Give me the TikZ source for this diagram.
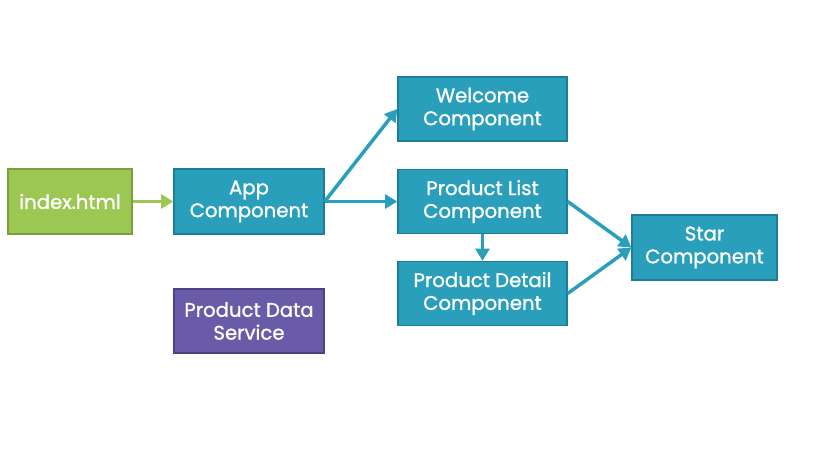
\documentclass[tikz,border=0pt]{standalone}
\usepackage{fontspec}
\setmainfont{Poppins}
\newfontfamily\boxfont[FakeBold=1.2]{Poppins}
\usetikzlibrary{arrows.meta}

\definecolor{htmlgreen}{HTML}{9CC753}
\definecolor{htmledge}{HTML}{7B9F3C}
\definecolor{compblue}{HTML}{2A9FBC}
\definecolor{compedge}{HTML}{1E7E98}
\definecolor{servpurple}{HTML}{6A5BA8}
\definecolor{servedge}{HTML}{4D4187}

\begin{document}
\begin{tikzpicture}[x=0.02cm,y=-0.02cm,
    box/.style={draw=compedge,fill=compblue,line width=0.8pt,text=white,
        align=center,inner sep=0pt,font=\boxfont\fontsize{11.2}{13}\selectfont},
    comp/.style={box,minimum width=3.38cm,minimum height=1.28cm},
    link/.style={draw=compblue,line width=2pt,-{Triangle[length=7pt,width=8pt]}}]

\useasboundingbox (0,0) rectangle (819,460);

% Entry page
\node[box,draw=htmledge,fill=htmlgreen,minimum width=2.48cm,minimum height=1.3cm] (index) at (70,201.5) {index.html};

% Root component
\node[box,minimum width=3cm,minimum height=1.3cm] (app) at (249,201.5) {App\\Component};

% Child components
\node[comp] (welcome) at (482.5,109) {Welcome\\Component};
\node[comp] (list) at (482.5,201.5) {Product List\\Component};
\node[comp] (detail) at (482.5,293.5) {Product Detail\\Component};
\node[box,minimum width=2.9cm,minimum height=1.3cm] (star) at (704.5,247.5) {Star\\Component};

% Service
\node[box,draw=servedge,fill=servpurple,minimum width=3cm,minimum height=1.28cm] (service) at (249,321) {Product Data\\Service};

% Arrows
\draw[link,draw=htmlgreen] (index) -- (app);
\draw[link] (app.east) -- (welcome.west);
\draw[link] (app) -- (list);
\draw[link] (list) -- (detail);
\draw[link] (list.east) -- (star.west);
\draw[link] (detail.east) -- (star.west);

\end{tikzpicture}
\end{document}
